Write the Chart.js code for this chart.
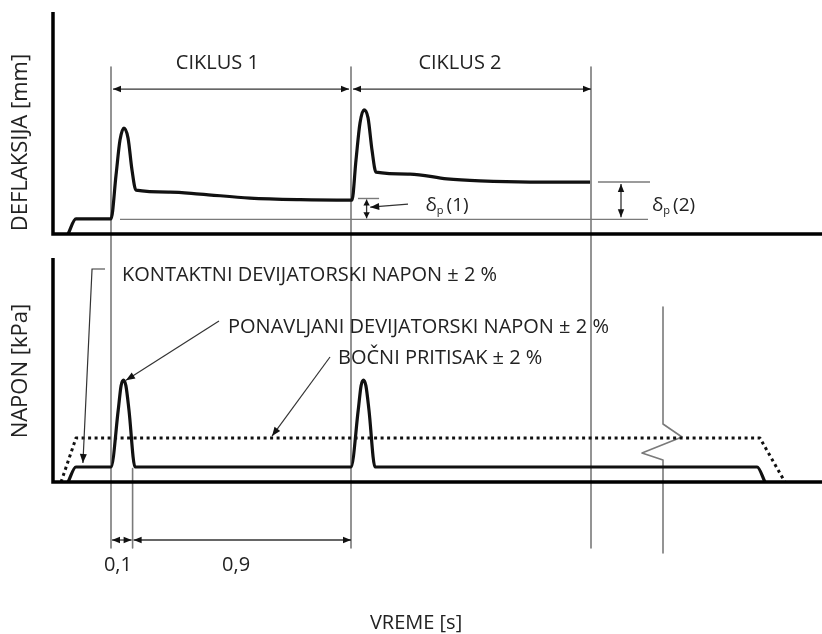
<!DOCTYPE html>
<html>
<head>
<meta charset="utf-8">
<script src="https://cdn.jsdelivr.net/npm/chart.js@4/dist/chart.umd.min.js"></script>
<style>
  html, body { margin: 0; padding: 0; background: #fff; }
  #wrap { width: 822px; height: 634px; position: relative; }
</style>
</head>
<body>
<div id="wrap"><canvas id="chart"></canvas></div>
<script>
// Time axis in seconds (cycle 1 = 0..1 s, cycle 2 = 1..2 s)
// Deflection panel (top) - schematic units
const defTime = [-0.179, -0.146, 0, 0.021, 0.0375, 0.054, 0.071, 0.0875, 0.104,
  0.246, 0.371, 0.579, 0.7875, 0.996,
  1.004, 1.0208, 1.0375, 1.054, 1.071, 1.0875, 1.104,
  1.246, 1.4, 1.5375, 1.746, 1.996];
const defValue = [0, 6.8, 6.8, 26.6, 42.3, 47.7, 43.2, 28.8, 19.8,
  18.9, 18.0, 16.2, 15.5, 15.3,
  15.3, 33.3, 50, 55.9, 52.3, 37.8, 27.9,
  27.0, 24.8, 23.9, 23.4, 23.4];

// Stress panel (bottom) - repeated deviator stress
const napTime = [-0.179, -0.146, 0, 0.03, 0.042, 0.052, 0.062, 0.075, 0.1,
  1.0, 1.03, 1.042, 1.052, 1.062, 1.075, 1.1, 2.692, 2.725];
const napValue = [0, 6.7, 6.7, 32, 43, 45.5, 43, 32, 6.7,
  6.7, 32, 43, 45.5, 43, 32, 6.7, 6.7, 0];

// Confining pressure (dotted)
const confTime = [-0.208, -0.146, 2.704, 2.808];
const confValue = [0, 19.6, 19.6, 0];

// Cycle boundaries and pulse / rest durations
const cycleBounds = [0, 1, 2];
const cycleLabels = ['CIKLUS 1', 'CIKLUS 2'];
const pulseEnd = 0.09;
const durationLabels = ['0,1', '0,9'];

// Permanent deformation reference levels
const seatingLevel = 6.6;
const deltaP1 = 16.0;
const deltaP2 = 23.4;

// Break symbol on time axis
const breakTime = [2.3, 2.3, 2.379, 2.2125, 2.3, 2.3];
const breakValue = [78.1, 25.9, 20.1, 12.9, 9.8, -31.7];

const AXIS_T = -0.2417;

function pts(xs, ys) {
  return xs.map((x, i) => ({ x: x, y: ys[i] }));
}

const GRAY = '#7a7a7a';
const INK = '#111';
const TEXT = '#222';
const FONT = '"Open Sans", "Noto Sans", sans-serif';

const datasets = [
  { data: pts(defTime, defValue), yAxisID: 'yDef', borderColor: INK, borderWidth: 3.2, cubicInterpolationMode: 'monotone', order: 1 },
  { data: pts(napTime, napValue), yAxisID: 'yNap', borderColor: INK, borderWidth: 3.2, cubicInterpolationMode: 'monotone', order: 1 },
  { data: pts(confTime, confValue), yAxisID: 'yNap', borderColor: INK, borderWidth: 3, borderDash: [3, 3.5], order: 1 },
  { data: pts(breakTime, breakValue), yAxisID: 'yNap', borderColor: GRAY, borderWidth: 1.6, order: 5 }
];

// vertical cycle lines spanning both panels
cycleBounds.forEach(t => {
  datasets.push({ data: pts([t, t], [75.2, -141.4]), yAxisID: 'yDef', borderColor: GRAY, borderWidth: 1.6, order: 5 });
});
// pulse end extension line
datasets.push({ data: pts([pulseEnd, pulseEnd], [6, -29.5]), yAxisID: 'yNap', borderColor: GRAY, borderWidth: 1.6, order: 5 });
// reference levels
datasets.push({ data: pts([0.0375, 2.2375], [seatingLevel, seatingLevel]), yAxisID: 'yDef', borderColor: GRAY, borderWidth: 1.4, order: 5 });
datasets.push({ data: pts([1.029, 1.117], [deltaP1, deltaP1]), yAxisID: 'yDef', borderColor: GRAY, borderWidth: 1.4, order: 5 });
datasets.push({ data: pts([2.029, 2.246], [deltaP2, deltaP2]), yAxisID: 'yDef', borderColor: GRAY, borderWidth: 1.4, order: 5 });

function arrowHead(ctx, x, y, ang, len, half) {
  len = len || 9; half = half || 3.5;
  ctx.save();
  ctx.translate(x, y);
  ctx.rotate(ang);
  ctx.beginPath();
  ctx.moveTo(0, 0);
  ctx.lineTo(-len, -half);
  ctx.lineTo(-len, half);
  ctx.closePath();
  ctx.fill();
  ctx.restore();
}

function line(ctx, pts, color, width) {
  ctx.save();
  ctx.strokeStyle = color;
  ctx.lineWidth = width;
  ctx.beginPath();
  pts.forEach((p, i) => i ? ctx.lineTo(p[0], p[1]) : ctx.moveTo(p[0], p[1]));
  ctx.stroke();
  ctx.restore();
}

function dimH(ctx, x1, x2, y) {
  line(ctx, [[x1, y], [x2, y]], '#333', 1.3);
  ctx.fillStyle = INK;
  arrowHead(ctx, x1, y, Math.PI, 8, 3.2);
  arrowHead(ctx, x2, y, 0, 8, 3.2);
}

function dimV(ctx, x, y1, y2, len) {
  line(ctx, [[x, y1], [x, y2]], '#333', 1.3);
  ctx.fillStyle = INK;
  arrowHead(ctx, x, y1, -Math.PI / 2, len, 3.2);
  arrowHead(ctx, x, y2, Math.PI / 2, len, 3.2);
}

function leader(ctx, pts) {
  line(ctx, pts, '#333', 1.2);
  const a = pts[pts.length - 2], b = pts[pts.length - 1];
  ctx.fillStyle = INK;
  arrowHead(ctx, b[0], b[1], Math.atan2(b[1] - a[1], b[0] - a[0]), 9, 3.5);
}

function deltaLabel(ctx, x, y, idx) {
  ctx.save();
  ctx.fillStyle = TEXT;
  ctx.textAlign = 'left';
  ctx.textBaseline = 'middle';
  ctx.font = '19px ' + FONT;
  ctx.fillText('δ', x, y);
  let w = ctx.measureText('δ').width;
  ctx.font = '11px ' + FONT;
  ctx.fillText('p', x + w, y + 5);
  w += ctx.measureText('p').width + 3;
  ctx.font = '19px ' + FONT;
  ctx.fillText('(' + idx + ')', x + w, y);
  ctx.restore();
}

const schemePlugin = {
  id: 'scheme',
  afterDatasetsDraw(chart) {
    const ctx = chart.ctx;
    const sx = chart.scales.x, sd = chart.scales.yDef, sn = chart.scales.yNap;
    const X = t => sx.getPixelForValue(t);
    const D = v => sd.getPixelForValue(v);
    const N = v => sn.getPixelForValue(v);

    // axes of both panels
    ctx.save();
    ctx.strokeStyle = '#000';
    ctx.lineWidth = 3.5;
    ctx.lineCap = 'butt';
    ctx.beginPath();
    ctx.moveTo(X(AXIS_T), D(100));
    ctx.lineTo(X(AXIS_T), D(0) + 1.75);
    ctx.moveTo(X(AXIS_T) - 1.75, D(0));
    ctx.lineTo(chart.width, D(0));
    ctx.moveTo(X(AXIS_T), N(100));
    ctx.lineTo(X(AXIS_T), N(0) + 1.75);
    ctx.moveTo(X(AXIS_T) - 1.75, N(0));
    ctx.lineTo(chart.width, N(0));
    ctx.stroke();
    ctx.restore();

    // cycle dimension lines
    const cy = D(65.3);
    dimH(ctx, X(cycleBounds[0]) + 2, X(cycleBounds[1]) - 2, cy);
    dimH(ctx, X(cycleBounds[1]) + 2, X(cycleBounds[2]), cy);

    // pulse / rest dimension lines
    const by = N(-25.9);
    dimH(ctx, X(0) + 1, X(pulseEnd) - 1, by);
    dimH(ctx, X(pulseEnd) + 1, X(1), by);

    // permanent deformation arrows
    dimV(ctx, X(1.065), D(deltaP1) + 1, D(seatingLevel) - 1, 6);
    dimV(ctx, X(2.125), D(deltaP2) + 2, D(seatingLevel) - 2, 8);
    leader(ctx, [[X(1.2375), D(13.5)], [X(1.08), D(12.1)]]);
    deltaLabel(ctx, X(1.31), D(12.6), 1);
    deltaLabel(ctx, X(2.254), D(12.6), 2);

    // stress annotations leaders
    leader(ctx, [[X(-0.025), N(95.1)], [X(-0.079), N(95.1)], [X(-0.117), N(8.5)]]);
    leader(ctx, [[X(0.45), N(71.9)], [X(0.0625), N(45.4)]]);
    leader(ctx, [[X(0.9125), N(55.8)], [X(0.671), N(20.5)]]);

    ctx.save();
    ctx.fillStyle = TEXT;
    ctx.font = '20px ' + FONT;
    ctx.textBaseline = 'middle';
    ctx.textAlign = 'center';
    ctx.fillText(cycleLabels[0], X(0.443), D(77));
    ctx.fillText(cycleLabels[1], X(1.454), D(77));
    ctx.fillText(durationLabels[0], X(0.029), N(-37.1));
    ctx.fillText(durationLabels[1], X(0.521), N(-37.1));
    ctx.fillText('VREME [s]', X(1.271), N(-62.9));
    ctx.textAlign = 'left';
    ctx.fillText('KONTAKTNI DEVIJATORSKI NAPON ± 2 %', X(0.046), N(92.4));
    ctx.fillText('PONAVLJANI DEVIJATORSKI NAPON ± 2 %', X(0.4875), N(69.2));
    ctx.fillText('BOČNI PRITISAK ± 2 %', X(0.946), N(55.4));
    ctx.restore();

    // axis titles
    [['DEFLAKSIJA [mm]', D(41.2)], ['NAPON [kPa]', N(49.5)]].forEach(([label, y]) => {
      ctx.save();
      ctx.fillStyle = TEXT;
      ctx.font = '22px ' + FONT;
      ctx.textBaseline = 'middle';
      ctx.textAlign = 'center';
      ctx.translate(X(-0.375), y);
      ctx.rotate(-Math.PI / 2);
      ctx.fillText(label, 0, 0);
      ctx.restore();
    });
  }
};

new Chart(document.getElementById('chart').getContext('2d'), {
  type: 'scatter',
  data: { datasets: datasets },
  options: {
    responsive: true,
    maintainAspectRatio: false,
    animation: false,
    layout: { padding: 0 },
    showLine: true,
    elements: {
      point: { radius: 0, hoverRadius: 0 },
      line: { borderJoinStyle: 'round', borderCapStyle: 'butt', tension: 0, fill: false }
    },
    plugins: { legend: { display: false }, tooltip: { enabled: false } },
    scales: {
      x: { type: 'linear', display: false, min: -0.4625, max: 2.9625 },
      yDef: { type: 'linear', axis: 'y', position: 'left', display: false, min: -180.18, max: 105.41 },
      yNap: { type: 'linear', axis: 'y', position: 'left', display: false, min: -67.86, max: 215.18 }
    }
  },
  plugins: [schemePlugin]
});
</script>
</body>
</html>
